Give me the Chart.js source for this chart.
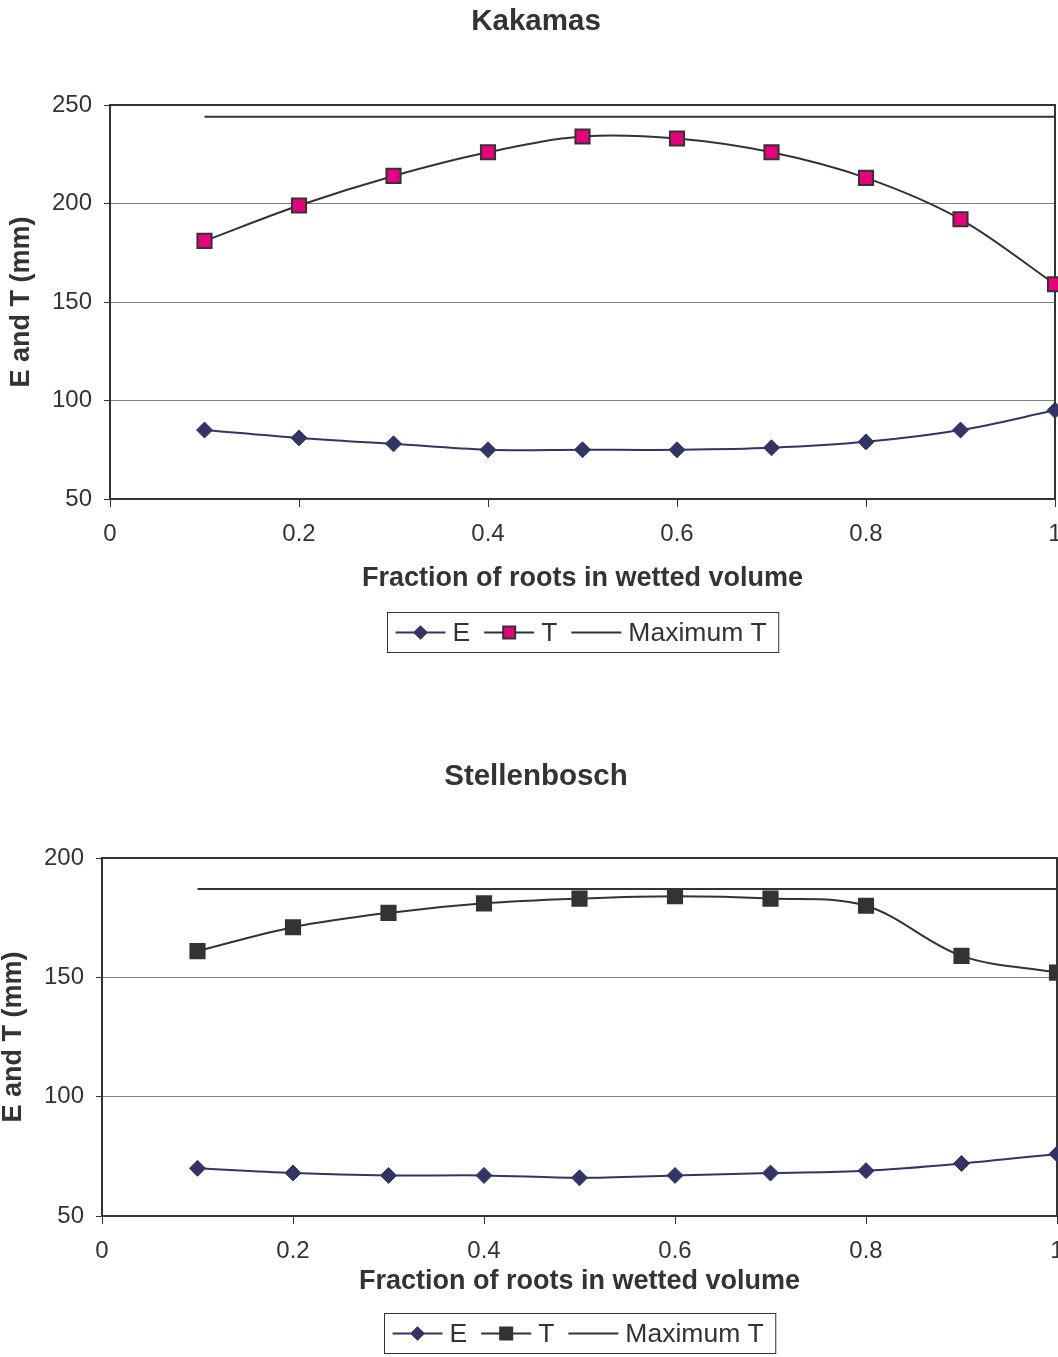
<!DOCTYPE html>
<html>
<head>
<meta charset="utf-8">
<script src="https://cdn.jsdelivr.net/npm/chart.js@4"></script>
<style>
  html, body { margin: 0; padding: 0; background: #fff; overflow: hidden; width: 1058px; height: 1357px; }
  canvas { position: absolute; left: 0; }
  #kakamas { top: 0; }
  #stellenbosch { top: 750px; }
</style>
</head>
<body>
<canvas id="kakamas" width="1072" height="690"></canvas>
<canvas id="stellenbosch" width="1072" height="620"></canvas>
<script>
// fraction of roots in wetted volume (x), E and T in mm
const FRACTION = [0.1, 0.2, 0.3, 0.4, 0.5, 0.6, 0.7, 0.8, 0.9, 1.0];

const KAK_E = [85, 81, 78, 75, 75, 75, 76, 79, 85, 95];
const KAK_T = [181, 199, 214, 226, 234, 233, 226, 213, 192, 159];
const KAK_MAXT = 244;
const KAK_Y = [50, 250, 50]; // min, max, step

const STEL_E = [70, 68, 67, 67, 66, 67, 68, 69, 72, 76];
const STEL_T = [161, 171, 177, 181, 183, 184, 183, 180, 159, 152];
const STEL_MAXT = 187;
const STEL_Y = [50, 200, 50];

const X_RANGE = [0, 1, 0.2];

const NAVY = '#333366';
const DARK = '#333333';
const FONT = '"Liberation Sans", Arial, sans-serif';
Chart.defaults.font.family = FONT;

// plot frame (top + right sides too, like Excel) and the centred chart title
const frame = {
  id: 'frame',
  beforeDatasetsDraw(chart, args, opts) {
    const { left, top, right, bottom } = chart.chartArea;
    const ctx = chart.ctx;
    ctx.save();
    ctx.strokeStyle = DARK;
    ctx.lineWidth = 2;
    ctx.strokeRect(left, top, right - left, bottom - top);
    ctx.font = 'bold 29.5px ' + FONT;
    ctx.fillStyle = DARK;
    ctx.textAlign = 'center';
    ctx.textBaseline = 'middle';
    ctx.fillText(opts.title, chart.width / 2, opts.titleY);
    ctx.restore();
  }
};

// boxed legend under the x axis title
const boxLegend = {
  id: 'boxLegend',
  afterDraw(chart, args, opts) {
    const ctx = chart.ctx;
    const { left, right } = chart.chartArea;
    const sets = chart.data.datasets;
    const lineLen = 50, gapLT = 7, gapItem = 14, padL = 8, padR = 12, h = 40;
    ctx.save();
    ctx.font = '26.5px ' + FONT;
    let w = padL + padR;
    sets.forEach((d, i) => {
      w += lineLen + gapLT + ctx.measureText(d.label).width + (i < sets.length - 1 ? gapItem : 0);
    });
    const x0 = Math.round((left + right) / 2 - w / 2) + 0.5;
    const y0 = opts.top + 0.5;
    ctx.strokeStyle = DARK;
    ctx.lineWidth = 1;
    ctx.strokeRect(x0, y0, w, h);
    const cy = y0 + h / 2;
    let x = x0 + padL;
    sets.forEach(d => {
      ctx.strokeStyle = d.borderColor;
      ctx.lineWidth = 2;
      ctx.beginPath();
      ctx.moveTo(x, cy);
      ctx.lineTo(x + lineLen, cy);
      ctx.stroke();
      if (d.pointRadius > 0) {
        ctx.fillStyle = d.pointBackgroundColor;
        ctx.strokeStyle = d.pointBorderColor;
        ctx.lineWidth = d.pointBorderWidth;
        Chart.helpers.drawPoint(ctx, {
          pointStyle: d.pointStyle,
          radius: d.pointRadius * 0.85,
          borderWidth: d.pointBorderWidth,
          rotation: 0
        }, x + lineLen / 2, cy);
      }
      ctx.fillStyle = DARK;
      ctx.textBaseline = 'middle';
      ctx.textAlign = 'left';
      ctx.fillText(d.label, x + lineLen + gapLT, cy + 1);
      x += lineLen + gapLT + ctx.measureText(d.label).width + gapItem;
    });
    ctx.restore();
  }
};

function makeChart(id, cfg) {
  const pts = arr => FRACTION.map((x, i) => ({ x, y: arr[i] }));
  return new Chart(document.getElementById(id), {
    type: 'line',
    data: {
      datasets: [
        {
          label: 'E', data: pts(cfg.e),
          borderColor: NAVY, borderWidth: 2, tension: 0.35, clip: false,
          pointStyle: 'rectRot', pointRadius: 8, pointBorderWidth: 1,
          pointBackgroundColor: NAVY, pointBorderColor: NAVY
        },
        {
          label: 'T', data: pts(cfg.t),
          borderColor: DARK, borderWidth: 2, tension: 0.35, clip: false,
          pointStyle: 'rect', pointRadius: 10, pointBorderWidth: 2,
          pointBackgroundColor: cfg.tFill, pointBorderColor: DARK
        },
        {
          label: 'Maximum T',
          data: [{ x: FRACTION[0], y: cfg.maxT }, { x: FRACTION[FRACTION.length - 1], y: cfg.maxT }],
          borderColor: DARK, borderWidth: 2, pointRadius: 0, clip: false
        }
      ]
    },
    options: {
      responsive: false,
      animation: false,
      layout: { padding: { left: 0, right: cfg.padRight, top: cfg.plotTop, bottom: cfg.padBottom } },
      plugins: {
        legend: { display: false },
        tooltip: { enabled: false },
        title: { display: false },
        frame: { title: cfg.title, titleY: cfg.titleY },
        boxLegend: { top: cfg.legendTop }
      },
      scales: {
        x: {
          type: 'linear', min: X_RANGE[0], max: X_RANGE[1],
          afterFit: s => { s.height = cfg.xHeight; s.paddingLeft = 0; s.paddingRight = 0; },
          ticks: {
            stepSize: X_RANGE[2], color: DARK, font: { size: 24 }, padding: 13, maxRotation: 0,
            callback: v => String(Math.round(v * 10) / 10)
          },
          grid: { drawOnChartArea: false, tickLength: 8, tickColor: DARK },
          border: { color: DARK, width: 2 },
          title: {
            display: true, text: 'Fraction of roots in wetted volume', color: DARK,
            font: { size: 27, weight: 'bold', lineHeight: 1.2 },
            padding: { top: 0, bottom: cfg.xTitleBottom }
          }
        },
        y: {
          min: cfg.y[0], max: cfg.y[1],
          afterFit: s => { s.width = cfg.yWidth; },
          ticks: { stepSize: cfg.y[2], color: DARK, font: { size: 24 }, padding: 12 },
          grid: { color: '#808080', lineWidth: 1, tickLength: 6, tickColor: DARK },
          border: { color: DARK, width: 2 },
          title: {
            display: true, text: 'E and T (mm)', color: DARK,
            font: { size: 27, weight: 'bold', lineHeight: 1 },
            padding: { top: cfg.yTitlePad, bottom: 0 }
          }
        }
      }
    },
    plugins: [frame, boxLegend]
  });
}

makeChart('kakamas', {
  title: 'Kakamas', e: KAK_E, t: KAK_T, maxT: KAK_MAXT, y: KAK_Y, tFill: '#e6007e',
  titleY: 22, plotTop: 105, xHeight: 100, xTitleBottom: 3.8,
  yWidth: 110, yTitlePad: 8.5, padRight: 17, padBottom: 91, legendTop: 612
});

makeChart('stellenbosch', {
  title: 'Stellenbosch', e: STEL_E, t: STEL_T, maxT: STEL_MAXT, y: STEL_Y, tFill: DARK,
  titleY: 27, plotTop: 108, xHeight: 90, xTitleBottom: 7.8,
  yWidth: 102, yTitlePad: 0.5, padRight: 15, padBottom: 64, legendTop: 563
});
</script>
</body>
</html>
